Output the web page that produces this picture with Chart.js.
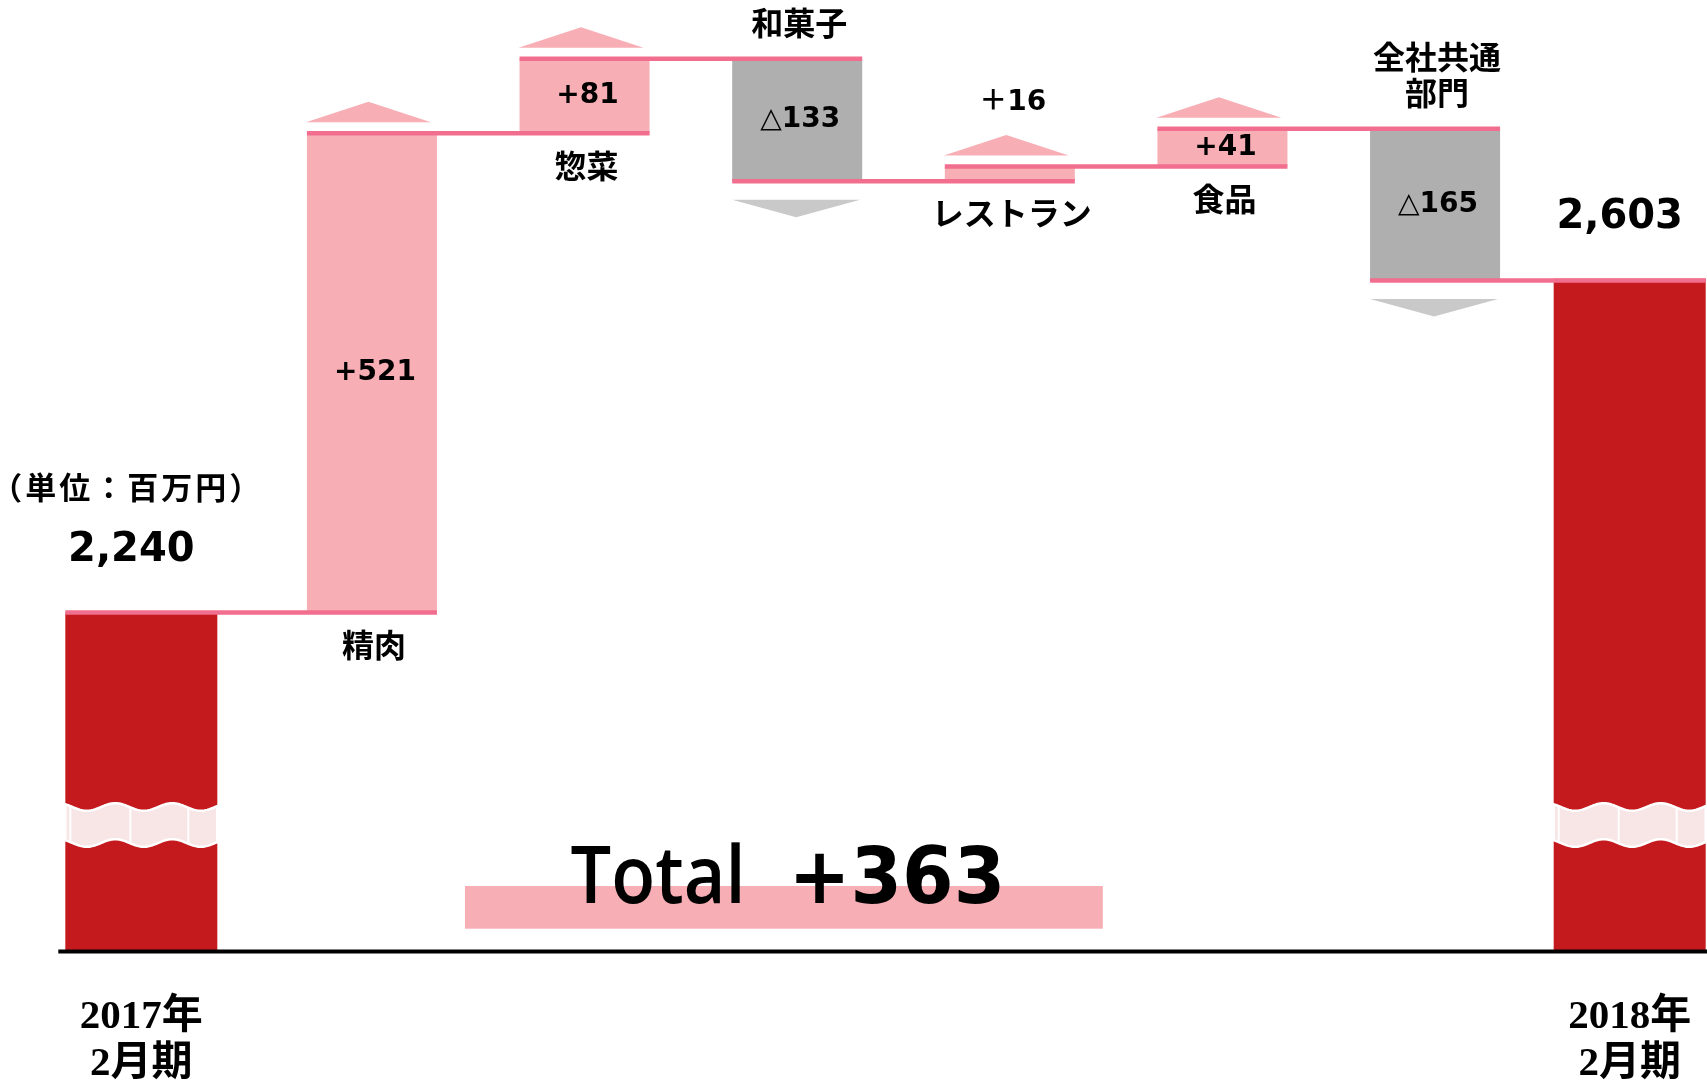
<!DOCTYPE html>
<html lang="ja">
<head>
<meta charset="utf-8">
<script src="https://cdn.jsdelivr.net/npm/chart.js@4.4.1/dist/chart.umd.min.js"></script>
<style>
  html, body { margin: 0; padding: 0; background: #ffffff; overflow: hidden; }
  #wrap { position: relative; width: 1745px; height: 1081px; }
</style>
</head>
<body>
<div id="wrap"><canvas id="chart"></canvas></div>
<script>
// ---- data ----
const periodLabels = [['2017年', '2月期'], ['2018年', '2月期']];
const segmentNames = [['精肉'], ['惣菜'], ['和菓子'], ['レストラン'], ['食品'], ['全社共通', '部門']];
const startTotal = 2240;
const endTotal = 2603;
const changes = [521, 81, -133, 16, 41, -165];
const changeLabels = ['+521', '+81', '△133', '＋16', '+41', '△165'];
const totalLabels = ['2,240', '2,603'];
const unitLabel = '（単位：百万円）';
const totalText = 'Total';
const yRange = [1873, 2906];

// ---- styles ----
const RED = '#C41A1D';
const PINK = '#F7AEB5';
const GRAY = '#AFAFAF';
const ARROW_GRAY = '#C9C9C9';
const LINE = '#F26E8E';
const BAND = '#F8E5E6';
const CJK = '"Noto Sans CJK JP", "Noto Sans CJK SC", sans-serif';
const VALUE_FONT = 'bold 28px "DejaVu Sans", ' + CJK;
const NAME_FONT = 'bold 32px ' + CJK;
const UNIT_FONT = 'bold 31px ' + CJK;
const TOTAL_FONT = 'bold 40px "DejaVu Sans", ' + CJK;

// ---- derived tables ----
const levels = [startTotal];
changes.forEach(c => levels.push(levels[levels.length - 1] + c));
const labels = [periodLabels[0], ...segmentNames, periodLabels[1]];
const totalData = [startTotal, ...changes.map(() => null), endTotal];
const changeData = [null, ...changes.map((c, i) => [levels[i], levels[i + 1]]), null];
const changeColors = [PINK, ...changes.map(c => (c > 0 ? PINK : GRAY)), PINK];

function drawBreak(ctx, left, right, cy) {
  const A = 3.8, P = 57, half = 18, phase = left + 50;
  const wave = x => A * Math.cos(2 * Math.PI * (x - phase) / P);
  ctx.beginPath();
  for (let x = left; x <= right; x += 1) ctx.lineTo(x, cy - half - wave(x));
  for (let x = right; x >= left; x -= 1) ctx.lineTo(x, cy + half - wave(x));
  ctx.closePath();
  ctx.fillStyle = BAND;
  ctx.fill();
  ctx.strokeStyle = '#ffffff';
  ctx.lineWidth = 2.5;
  ctx.stroke();
  ctx.lineWidth = 2;
  [5, 65, 123].forEach(off => {
    const x = left + off;
    if (x > right) return;
    ctx.beginPath();
    ctx.moveTo(x, cy - half - wave(x));
    ctx.lineTo(x, cy + half - wave(x));
    ctx.stroke();
  });
}

const decor = {
  id: 'decor',
  afterDatasetsDraw(chart) {
    const ctx = chart.ctx;
    const ys = chart.scales.y;
    const area = chart.chartArea;
    const tot = chart.getDatasetMeta(0).data;
    const chg = chart.getDatasetMeta(1).data;
    const n = labels.length;
    const bars = labels.map((_, i) => {
      const el = (i === 0 || i === n - 1) ? tot[i] : chg[i];
      const p = el.getProps(['x', 'y', 'base', 'width'], true);
      return {
        x: p.x, width: p.width,
        left: p.x - p.width / 2, right: p.x + p.width / 2,
        top: Math.min(p.y, p.base), bottom: Math.max(p.y, p.base)
      };
    });
    ctx.save();

    // axis break bands on the total bars
    [0, n - 1].forEach(i => drawBreak(ctx, bars[i].left, bars[i].right, area.bottom - 125));

    // connector lines
    ctx.strokeStyle = LINE;
    ctx.lineWidth = 4.5;
    for (let i = 0; i < n - 1; i++) {
      const y = ys.getPixelForValue(levels[i]);
      ctx.beginPath();
      ctx.moveTo(bars[i].left, y);
      ctx.lineTo(bars[i + 1].right, y);
      ctx.stroke();
    }

    // arrows
    changes.forEach((c, k) => {
      const b = bars[k + 1];
      ctx.beginPath();
      if (c > 0) {
        const base = b.top - 11, apex = base - 20.5;
        const l = b.left - 1, r = b.right - 6;
        ctx.moveTo(l, base); ctx.lineTo(r, base); ctx.lineTo((l + r) / 2, apex);
        ctx.fillStyle = PINK;
      } else {
        const base = b.bottom + 18.5, apex = base + 17.5;
        const l = b.left, r = b.right - 2;
        ctx.moveTo(l, base); ctx.lineTo(r, base); ctx.lineTo((l + r) / 2, apex);
        ctx.fillStyle = ARROW_GRAY;
      }
      ctx.closePath();
      ctx.fill();
    });

    // value labels
    ctx.fillStyle = '#000';
    ctx.textAlign = 'center';
    ctx.textBaseline = 'middle';
    ctx.font = VALUE_FONT;
    changes.forEach((c, k) => {
      const b = bars[k + 1];
      const h = b.bottom - b.top;
      let y = (b.top + b.bottom) / 2;
      if (h < 35) y = b.top - 11 - 20.5 - 32;
      ctx.fillText(changeLabels[k], b.x + 3, y);
    });

    // segment names
    ctx.font = NAME_FONT;
    const lh = 35.5;
    changes.forEach((c, k) => {
      const b = bars[k + 1];
      const lines = segmentNames[k];
      lines.forEach((t, j) => {
        const y = c > 0 ? b.bottom + 32 + j * lh : b.top - 36 - (lines.length - 1 - j) * lh;
        ctx.fillText(t, b.x + 2, y);
      });
    });

    // totals
    ctx.font = TOTAL_FONT;
    ctx.textBaseline = 'alphabetic';
    [0, n - 1].forEach((i, j) => ctx.fillText(totalLabels[j], bars[i].x - 10, bars[i].top - 51));

    // unit
    ctx.font = UNIT_FONT;
    ctx.textBaseline = 'middle';
    ctx.letterSpacing = '3px';
    ctx.fillText(unitLabel, bars[0].x - 14, bars[0].top - 125);
    ctx.letterSpacing = '0px';

    // baseline
    ctx.strokeStyle = '#000';
    ctx.lineWidth = 4;
    ctx.beginPath();
    ctx.moveTo(bars[0].left - 7, area.bottom + 1.5);
    ctx.lineTo(chart.width, area.bottom + 1.5);
    ctx.stroke();

    // total change box
    const bx0 = bars[1].right + 28, bx1 = bars[4].right + 28;
    ctx.fillStyle = PINK;
    ctx.fillRect(bx0, area.bottom - 64, bx1 - bx0, 42.7);
    const diff = endTotal - startTotal;
    const diffText = (diff >= 0 ? '+' : '△') + Math.abs(diff);
    const s1 = 0.9, s2 = 0.95, gap = 43;
    const f1 = '600 80px "Open Sans", sans-serif';
    const f2 = 'bold 78px "DejaVu Sans", sans-serif';
    ctx.textAlign = 'left';
    ctx.textBaseline = 'alphabetic';
    ctx.font = f1;
    const w1 = ctx.measureText(totalText).width * s1;
    ctx.font = f2;
    const w2 = ctx.measureText(diffText).width * s2;
    const cx = (bx0 + bx1) / 2 + 4;
    const baseY = area.bottom - 47.5;
    const x = cx - (w1 + gap + w2) / 2;
    ctx.fillStyle = '#000';
    ctx.save();
    ctx.translate(x, baseY); ctx.scale(s1, 1);
    ctx.font = f1;
    ctx.fillText(totalText, 0, 0);
    ctx.restore();
    ctx.save();
    ctx.translate(x + w1 + gap, baseY); ctx.scale(s2, 1);
    ctx.font = f2;
    ctx.fillText(diffText, 0, 0);
    ctx.restore();

    ctx.restore();
  }
};

new Chart(document.getElementById('chart'), {
  type: 'bar',
  data: {
    labels: labels,
    datasets: [
      {
        label: 'totals',
        data: totalData,
        backgroundColor: RED,
        borderWidth: 0,
        categoryPercentage: 0.16933,
        barPercentage: 8.444
      },
      {
        label: 'changes',
        data: changeData,
        backgroundColor: changeColors,
        borderWidth: 0,
        categoryPercentage: 0.16933,
        barPercentage: 7.222
      }
    ]
  },
  options: {
    responsive: true,
    maintainAspectRatio: false,
    animation: false,
    devicePixelRatio: 1,
    layout: { padding: { left: 44, right: 0, top: 0, bottom: 0 } },
    plugins: { legend: { display: false }, tooltip: { enabled: false } },
    scales: {
      x: {
        grid: { display: false },
        border: { display: false },
        afterFit(scale) { scale.height = 131; },
        ticks: {
          autoSkip: false,
          maxRotation: 0,
          padding: 36,
          labelOffset: -9,
          color: '#000',
          font: { family: '"Liberation Serif", "Noto Sans CJK JP", serif', weight: 'bold', size: 41, lineHeight: 1.15 },
          callback: function (value, index) {
            return (index === 0 || index === labels.length - 1) ? this.getLabelForValue(value) : '';
          }
        }
      },
      y: {
        display: false,
        min: yRange[0],
        max: yRange[1]
      }
    }
  },
  plugins: [decor]
});
</script>
</body>
</html>
